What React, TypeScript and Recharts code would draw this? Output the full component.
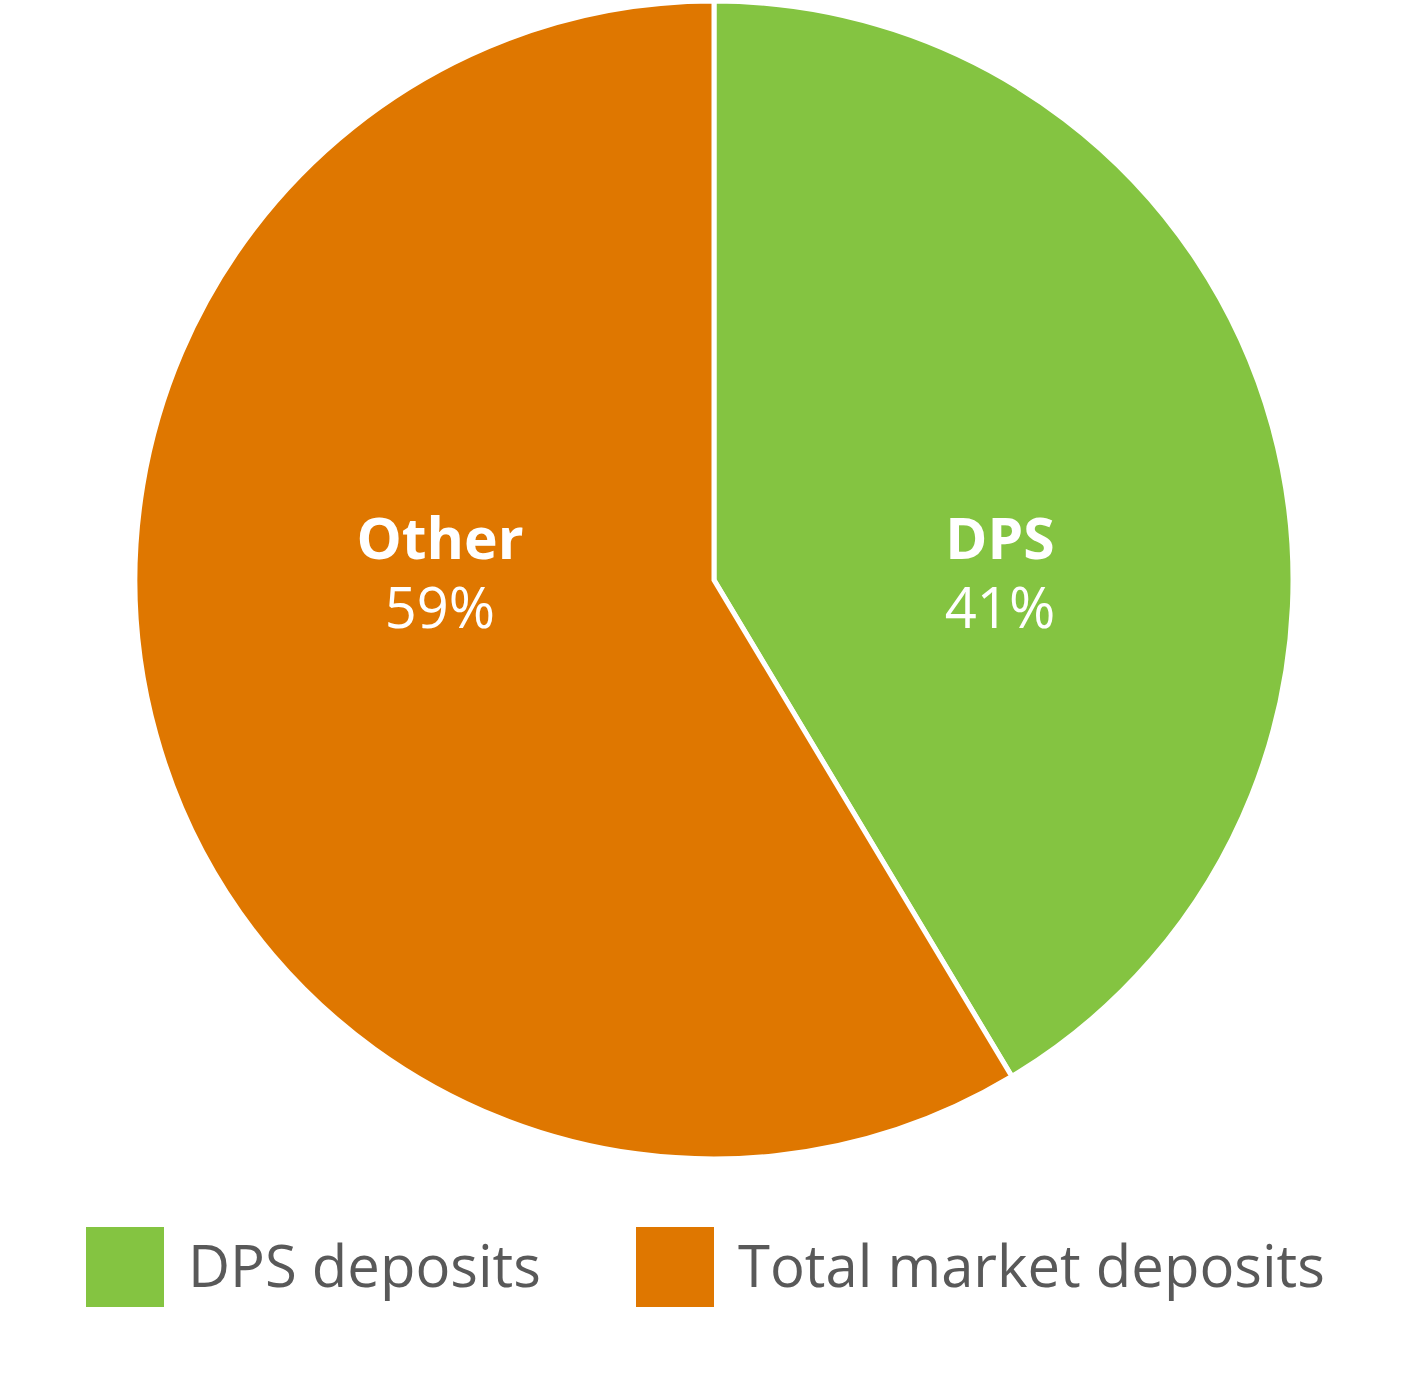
import React from 'react';
import { PieChart, Pie, Cell, Legend } from 'recharts';

const sliceNames = ['DPS', 'Other'];
const sliceValues = [41.4, 58.6];
const legendNames = ['DPS deposits', 'Total market deposits'];
const sliceColors = ['#84C441', '#DF7700'];

const RAD = Math.PI / 180;
const FONT = '"Open Sans", sans-serif';

const chartData = sliceNames.map((name, i) => ({
  name,
  value: sliceValues[i],
  legend: legendNames[i],
}));

const renderLabel = (props: any) => {
  const { cx, cy, midAngle, outerRadius, payload } = props;
  const dir = Math.cos(-midAngle * RAD) >= 0 ? 1 : -1;
  const x = cx + dir * outerRadius * 0.4836 + 6;
  return (
    <g>
      <text x={x} y={cy - 21} textAnchor="middle" fill="#fff" fontFamily={FONT} fontSize={57} fontWeight={700}>
        {payload.name}
      </text>
      <text x={x} y={cy + 48} textAnchor="middle" fill="#fff" fontFamily={FONT} fontSize={56}>
        {Math.round(payload.value)}%
      </text>
    </g>
  );
};

const renderLegend = () => (
  <div style={{ position: 'relative', height: 80, fontFamily: FONT }}>
    {chartData.map((d, i) => (
      <div
        key={d.name}
        style={{
          position: 'absolute',
          left: i === 0 ? 86 : 636,
          top: 0,
          display: 'flex',
          alignItems: 'center',
          height: 80,
        }}
      >
        <div style={{ width: 78, height: 80, background: sliceColors[i] }} />
        <span
          style={{
            marginLeft: 24,
            fontSize: 58,
            color: '#595959',
            whiteSpace: 'nowrap',
            position: 'relative',
            top: -3,
          }}
        >
          {d.legend}
        </span>
      </div>
    ))}
  </div>
);

export default function App() {
  return (
    <div style={{ position: 'absolute', left: 0, top: 0, width: 1427, height: 1380, background: '#fff' }}>
      <PieChart width={1427} height={1380} margin={{ top: 0, right: 0, bottom: 0, left: 0 }}>
        <Pie
          data={chartData}
          dataKey="value"
          nameKey="name"
          cx={714}
          cy={580}
          outerRadius={579}
          startAngle={90}
          endAngle={-270}
          stroke="#fff"
          strokeWidth={5}
          label={renderLabel}
          labelLine={false}
          isAnimationActive={false}
        >
          {chartData.map((d, i) => (
            <Cell key={d.name} fill={sliceColors[i]} />
          ))}
        </Pie>
        <Legend
          content={renderLegend}
          wrapperStyle={{ position: 'absolute', left: 0, top: 1227, width: 1427 }}
        />
      </PieChart>
    </div>
  );
}
